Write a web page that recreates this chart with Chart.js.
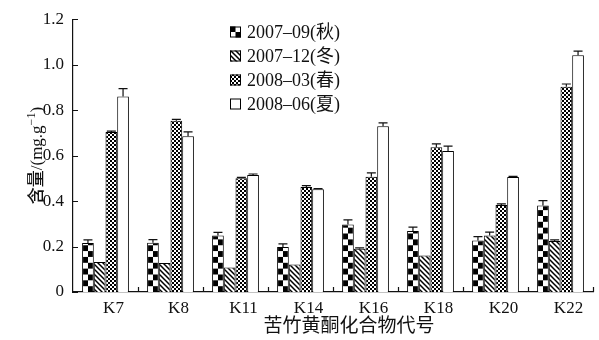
<!DOCTYPE html>
<html>
<head>
<meta charset="utf-8">
<script src="https://cdn.jsdelivr.net/npm/chart.js@4.4.1/dist/chart.umd.min.js"></script>
<style>
  html, body { margin: 0; padding: 0; background: #fff; }
  #wrap { width: 599px; height: 340px; }
</style>
</head>
<body>
<div id="wrap"><canvas id="c"></canvas></div>
<script>
// Flavonoid content of bitter bamboo compounds by sampling season
const categories = ['K7', 'K8', 'K11', 'K14', 'K16', 'K18', 'K20', 'K22'];
const seasonLabels = ['2007–09(秋)', '2007–12(冬)', '2008–03(春)', '2008–06(夏)'];

const autumn2007 = [0.215, 0.217, 0.248, 0.198, 0.297, 0.268, 0.227, 0.380];
const autumnErr  = [0.014, 0.013, 0.014, 0.014, 0.020, 0.017, 0.017, 0.022];
const winter2007 = [0.132, 0.128, 0.108, 0.121, 0.190, 0.161, 0.249, 0.224];
const winterErr  = [0.000, 0.000, 0.000, 0.000, 0.004, 0.000, 0.014, 0.005];
const spring2008 = [0.704, 0.753, 0.500, 0.462, 0.507, 0.637, 0.383, 0.903];
const springErr  = [0.004, 0.006, 0.004, 0.006, 0.017, 0.015, 0.005, 0.012];
const summer2008 = [0.860, 0.685, 0.515, 0.452, 0.729, 0.620, 0.506, 1.041];
const summerErr  = [0.035, 0.019, 0.004, 0.003, 0.015, 0.022, 0.003, 0.019];

const yTicks = ['0', '0.2', '0.4', '0.6', '0.8', '1.0', '1.2'];

const INK = '#111';
const CAT_PCT = 0.72;
const SERIF = "'Liberation Serif', 'Noto Sans CJK SC', serif";
const CJK = "'Noto Sans CJK SC', sans-serif";

// ---- fill tiles ----
function makeTile(w, h, paint) {
  const c = document.createElement('canvas');
  c.width = w; c.height = h;
  paint(c.getContext('2d'), w, h);
  return c;
}
// coarse checkerboard
const coarseTile = makeTile(12, 12, (g) => {
  g.fillStyle = '#fff'; g.fillRect(0, 0, 12, 12);
  g.fillStyle = '#000'; g.fillRect(0, 0, 6, 6); g.fillRect(6, 6, 6, 6);
});
// diagonal hatch "\"
const hatchTile = makeTile(5, 5, (g, s) => {
  g.fillStyle = '#fff'; g.fillRect(0, 0, s, s);
  g.strokeStyle = '#000'; g.lineWidth = 1.5;
  g.beginPath();
  g.moveTo(-1, -1); g.lineTo(s + 1, s + 1);
  g.moveTo(-1, s - 1); g.lineTo(1, s + 1);
  g.moveTo(s - 1, -1); g.lineTo(s + 1, 1);
  g.stroke();
});
// fine checkerboard
const fineTile = makeTile(4, 4, (g) => {
  g.fillStyle = '#000'; g.fillRect(0, 0, 4, 4);
  g.fillStyle = '#fff'; g.fillRect(0, 0, 2, 2); g.fillRect(2, 2, 2, 2);
});

const cvs = document.getElementById('c');
const c2d = cvs.getContext('2d');
const hatchPattern = c2d.createPattern(hatchTile, 'repeat');
const finePattern = c2d.createPattern(fineTile, 'repeat');

// coarse checker anchored to each bar's left edge so every bar shows two full columns
function coarseFill(ctx) {
  const chart = ctx.chart;
  const xs = chart.scales && chart.scales.x;
  const p = chart.ctx.createPattern(coarseTile, 'repeat');
  if (!xs || ctx.dataIndex === undefined || !chart.chartArea) return p;
  const cat = xs.width / categories.length;
  const barW = cat * CAT_PCT / 4;
  const left = xs.getPixelForValue(ctx.dataIndex) - cat * CAT_PCT / 2;
  const k = barW / 12;
  p.setTransform(new DOMMatrix([k, 0, 0, k, left, chart.chartArea.bottom]));
  return p;
}

// ---- error bars ----
const errorBars = {
  id: 'errorBars',
  afterDatasetsDraw(chart) {
    const g = chart.ctx;
    const ys = chart.scales.y;
    g.save();
    g.strokeStyle = INK;
    g.lineWidth = 1.2;
    chart.data.datasets.forEach((ds, di) => {
      const meta = chart.getDatasetMeta(di);
      meta.data.forEach((bar, i) => {
        const e = ds.errors[i];
        if (!e) return;
        const top = ys.getPixelForValue(ds.data[i] + e);
        g.beginPath();
        g.moveTo(bar.x, bar.y);
        g.lineTo(bar.x, top);
        g.moveTo(bar.x - 4.5, top);
        g.lineTo(bar.x + 4.5, top);
        g.stroke();
      });
    });
    g.restore();
  }
};

// ---- inward tick marks, titles and legend ----
const decorations = {
  id: 'decorations',
  afterDraw(chart) {
    const g = chart.ctx;
    const xs = chart.scales.x, ys = chart.scales.y;
    const area = chart.chartArea;
    g.save();
    g.strokeStyle = INK;
    g.lineWidth = 1.2;
    g.beginPath();
    // y ticks pointing into the plot
    ys.ticks.forEach((t) => {
      const y = Math.round(ys.getPixelForValue(t.value)) + 0.5;
      g.moveTo(area.left, y);
      g.lineTo(area.left + 5, y);
    });
    // category boundaries on the x axis
    const cat = xs.width / categories.length;
    for (let i = 1; i <= categories.length; i++) {
      const x = Math.round(xs.left + i * cat) + 0.5;
      g.moveTo(x, area.bottom);
      g.lineTo(x, area.bottom - 5);
    }
    g.stroke();

    // x title
    g.fillStyle = INK;
    g.font = '19px ' + CJK;
    g.textAlign = 'center';
    g.textBaseline = 'middle';
    g.fillText('苦竹黄酮化合物代号', 349, 325);

    // y title with superscript unit
    g.save();
    g.translate(42, (area.top + area.bottom) / 2);
    g.rotate(-Math.PI / 2);
    g.textAlign = 'left';
    g.textBaseline = 'alphabetic';
    const parts = [
      { t: '含量', f: '500 17px ' + CJK, dy: 0 },
      { t: '/(mg.g', f: '17px ' + SERIF, dy: 0 },
      { t: '−1', f: '12px ' + SERIF, dy: -7 },
      { t: ')', f: '17px ' + SERIF, dy: 0 }
    ];
    let total = 0;
    parts.forEach((p) => { g.font = p.f; p.w = g.measureText(p.t).width; total += p.w; });
    let x = -total / 2;
    parts.forEach((p) => { g.font = p.f; g.fillText(p.t, x, p.dy); x += p.w; });
    g.restore();

    // legend
    const fills = [null, hatchPattern, finePattern, '#fff'];
    g.font = '18px ' + SERIF;
    g.textAlign = 'left';
    g.textBaseline = 'middle';
    chart.data.datasets.forEach((ds, i) => {
      const cy = 32 + i * 24;
      const bx = 230, by = cy - 5.5, bs = 11;
      if (i === 0) {
        g.fillStyle = '#fff'; g.fillRect(bx, by, bs, bs);
        g.fillStyle = '#000';
        g.fillRect(bx, by, bs / 2, bs / 2);
        g.fillRect(bx + bs / 2, by + bs / 2, bs / 2, bs / 2);
      } else {
        g.fillStyle = fills[i];
        g.fillRect(bx, by, bs, bs);
      }
      g.lineWidth = 1;
      g.strokeStyle = '#000';
      g.strokeRect(bx + 0.5, by + 0.5, bs - 1, bs - 1);
      g.fillStyle = INK;
      g.fillText(ds.label, 247, cy + 1);
    });
    g.restore();
  }
};

const seriesValues = [autumn2007, winter2007, spring2008, summer2008];
const seriesErrors = [autumnErr, winterErr, springErr, summerErr];
const seriesFills = [coarseFill, hatchPattern, finePattern, '#ffffff'];

new Chart(cvs, {
  type: 'bar',
  data: {
    labels: categories,
    datasets: seriesValues.map((vals, i) => ({
      label: seasonLabels[i],
      data: vals,
      errors: seriesErrors[i],
      backgroundColor: seriesFills[i],
      borderColor: '#000',
      borderWidth: 1,
      categoryPercentage: CAT_PCT,
      barPercentage: 1.0
    }))
  },
  options: {
    responsive: true,
    maintainAspectRatio: false,
    devicePixelRatio: 1,
    animation: false,
    layout: { padding: { top: 17, right: 6, left: 0, bottom: 0 } },
    plugins: { legend: { display: false }, tooltip: { enabled: false } },
    scales: {
      x: {
        grid: { display: false, drawTicks: false },
        border: { display: true, color: INK, width: 1.2 },
        ticks: {
          color: INK,
          font: { family: SERIF, size: 17 },
          padding: 6,
          labelOffset: 8,
          maxRotation: 0,
          autoSkip: false
        },
        afterFit(s) { s.height = 48; }
      },
      y: {
        min: 0,
        max: 1.2,
        grid: { display: false, drawTicks: false },
        border: { display: true, color: INK, width: 1.2 },
        ticks: {
          stepSize: 0.2,
          color: INK,
          font: { family: SERIF, size: 17 },
          padding: 9,
          callback: (v, i) => yTicks[i]
        },
        afterFit(s) { s.width = 73; }
      }
    }
  },
  plugins: [errorBars, decorations]
});
</script>
</body>
</html>
